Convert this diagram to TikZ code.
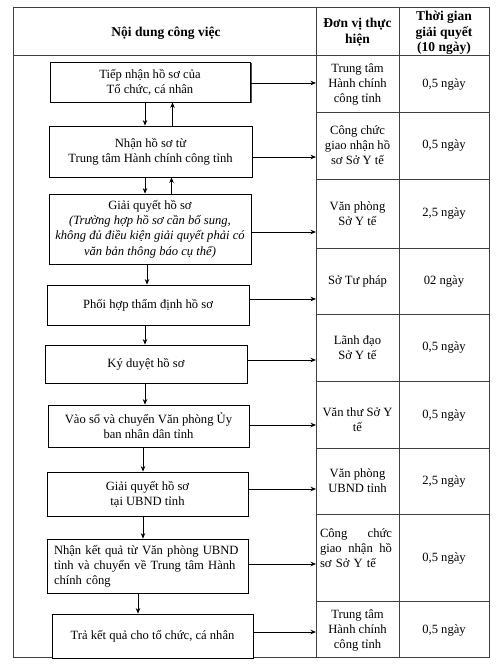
\documentclass[tikz,border=0pt]{standalone}
\usepackage{fontspec}
\setmainfont{Liberation Serif}
\usetikzlibrary{positioning}
\usetikzlibrary{arrows.meta}
\usetikzlibrary{shadows}

\begin{document}
\begin{tikzpicture}[x=1pt, y=-1pt,
    every node/.style={font=\fontsize{12.6}{15}\selectfont, inner sep=0pt},
    task/.style={draw=black, line width=0.8pt, fill=white, minimum width=201pt, align=center},
    cell/.style={align=center},
    head/.style={align=center, font=\fontsize{13.5}{15.5}\selectfont\bfseries},
    grid/.style={draw=black!75, line width=0.7pt},
    flow/.style={-{Stealth[length=5.5pt,width=4.5pt]}, line width=0.7pt}]
  % Page size
  \useasboundingbox (0,0) rectangle (498,668);
  % Table frame and column borders
  \coordinate (tl) at (13,7);
  \coordinate (br) at (489,657);
  \coordinate (c2) at (316,7);
  \coordinate (c3) at (399,7);
  \draw[grid] (tl) rectangle (br);
  \draw[grid] (13,55) -- (489,55);
  \draw[grid] (c2) -- (c2 |- br);
  \draw[grid] (c3) -- (c3 |- br);
  % Row borders of the two right columns
  \foreach \y in {112,179,248,314,381,448,514,601}
    \draw[grid] (c2 |- 0,\y) -- (br |- 0,\y);
  % Header
  \node[head] (h1) at (166,33) {Nội dung công việc};
  \node[head] (h2) at (357.5,32) {Đơn vị thực\\hiện};
  \node[head] (h3) at (444,33) {Thời gian\\giải quyết\\(10 ngày)};
  % Steps
  \node[task, minimum width=200pt, minimum height=40pt,
        drop shadow={shadow xshift=1.5pt, shadow yshift=-1.5pt, fill=black!70, opacity=1}]
        (b1) at (150,82) {Tiếp nhận hồ sơ của\\Tổ chức, cá nhân};
  \node[task, minimum width=203pt, minimum height=51pt] (b2) at (150.5,151.5)
        {Nhận hồ sơ từ\\Trung tâm Hành chính công tỉnh};
  \node[task, minimum width=202pt, minimum height=70pt, font=\fontsize{12.6}{15.3}\selectfont] (b3) at (150,229)
        {Giải quyết hồ sơ\\\textit{(Trường hợp hồ sơ cần bổ sung,}\\\textit{không đủ điều kiện giải quyết phải có}\\\textit{văn bản thông báo cụ thể)}};
  \node[task, minimum width=202pt, minimum height=40pt] (b4) at (148,305) {Phối hợp thẩm định hồ sơ};
  \node[task, minimum width=202pt, minimum height=38pt] (b5) at (146,364) {Ký duyệt hồ sơ};
  \node[task, minimum height=42pt] (b6) at (148.5,426)
        {Vào sổ và chuyển Văn phòng Ủy\\ban nhân dân tỉnh};
  \node[task, minimum height=44pt] (b7) at (147.5,494) {Giải quyết hồ sơ\\tại UBND tỉnh};
  \node[task, minimum height=54pt, align=left, text width=187pt, inner xsep=7pt] (b8) at (147.5,566)
        {Nhận kết quả từ Văn phòng UBND\\tỉnh và chuyển về Trung tâm Hành\\chính công};
  \node[task, minimum height=44pt] (b9) at (152.5,636) {Trả kết quả cho tổ chức, cá nhân};
  % Units
  \node[cell] (u1) at (357.5,84) {Trung tâm\\Hành chính\\công tỉnh};
  \node[cell] (u2) at (357.5,145.5) {Công chức\\giao nhận hồ\\sơ Sở Y tế};
  \node[cell] (u3) at (357.5,213.5) {Văn phòng\\Sở Y tế};
  \node[cell] (u4) at (357.5,281) {Sở Tư pháp};
  \node[cell] (u5) at (357.5,347.5) {Lãnh đạo\\Sở Y tế};
  \node[cell] (u6) at (357.5,420) {Văn thư Sở Y\\tế};
  \node[cell] (u7) at (357.5,481) {Văn phòng\\UBND tỉnh};
  \node[cell, align=left, text width=72pt] (u8) at (356,548)
        {Công\hfill chức\\giao\hfill nhận\hfill hồ\\sơ Sở Y tế};
  \node[cell] (u9) at (357.5,630) {Trung tâm\\Hành chính\\công tỉnh};
  % Time for each step
  \foreach \y/\t [count=\i] in {84/{0,5 ngày}, 145.5/{0,5 ngày}, 213.5/{2,5 ngày},
      281/{02 ngày}, 347.5/{0,5 ngày}, 415/{0,5 ngày}, 481/{2,5 ngày},
      558/{0,5 ngày}, 630/{0,5 ngày}}
    \node[cell] (t\i) at (444,\y) {\t};
  % Arrows down the flow (and back up at the top)
  \draw[flow] ([xshift=-5pt]b1.south) -- ([xshift=-5pt]b1.south |- b2.north);
  \draw[flow] ([xshift=22pt]b2.north) -- ([xshift=22pt]b2.north |- b1.south);
  \draw[flow] ([xshift=-5.5pt]b2.south) -- ([xshift=-5.5pt]b2.south |- b3.north);
  \draw[flow] ([xshift=21.5pt]b3.north) -- ([xshift=21.5pt]b3.north |- b2.south);
  \draw[flow] ([xshift=-3pt]b3.south) -- ([xshift=-3pt]b3.south |- b4.north);
  \draw[flow] ([xshift=-3pt]b4.south) -- ([xshift=-3pt]b4.south |- b5.north);
  \draw[flow] ([xshift=-1pt]b5.south) -- ([xshift=-1pt]b5.south |- b6.north);
  \draw[flow] ([xshift=-5.5pt]b6.south) -- ([xshift=-5.5pt]b6.south |- b7.north);
  \draw[flow] ([xshift=-4.5pt]b7.south) -- ([xshift=-4.5pt]b7.south |- b8.north);
  \draw[flow] ([xshift=-9.5pt]b8.south) -- ([xshift=-9.5pt]b8.south |- b9.north);
  % Arrows from each step to its unit
  \foreach \i/\s in {1/-1, 2/-5.5, 3/-3, 4/6, 5/4, 6/1, 7/5, 8/2, 9/4}
    \draw[flow] ([yshift=\s pt]b\i.east) -- ([yshift=\s pt]b\i.east -| c2);
\end{tikzpicture}
\end{document}
